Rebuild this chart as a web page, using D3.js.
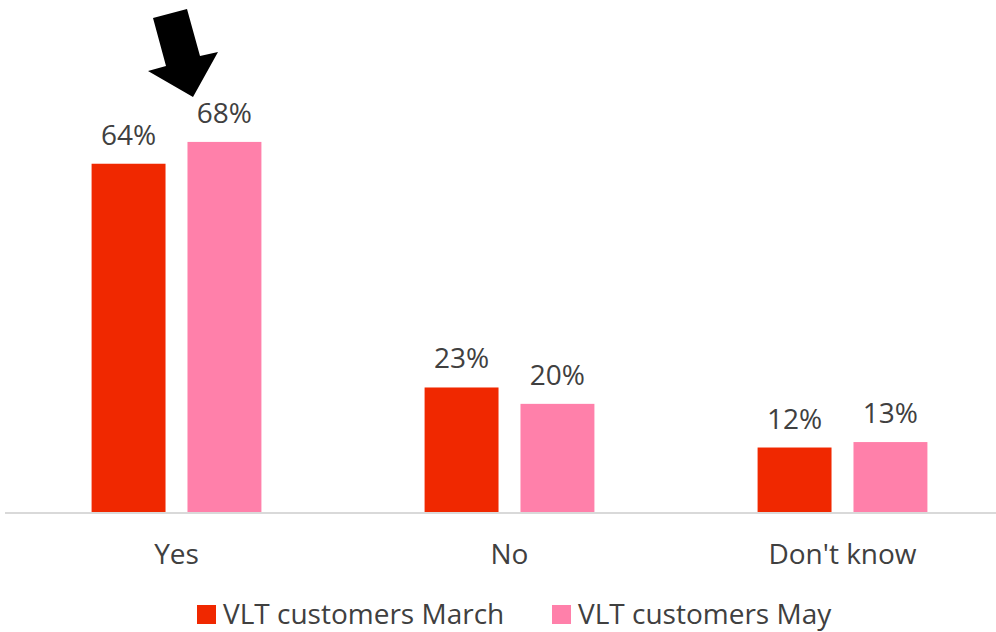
<!DOCTYPE html>
<html lang="en">
<head>
  <meta charset="utf-8">
  <title>VLT customers</title>
  <script src="https://d3js.org/d3.v7.min.js"></script>
  <style>
  body { margin: 0; background: #fff; }
  text { font-family: 'Open Sans', sans-serif; fill: #404040; }
  </style>
</head>
<body>
  <script>
  var width = 996;
  var height = 632;

  var categories = ["Yes", "No", "Don't know"];
  var seriesNames = ["VLT customers March", "VLT customers May"];
  var march = [64, 23, 12];
  var may = [68, 20, 13];
  var colors = ["#f02800", "#ff80aa"];

  var svg = d3.select("body")
    .append("svg")
    .attr("width", width)
    .attr("height", height);

  var x = d3.scaleBand()
    .domain(categories)
    .range([10, 1009])
    .paddingInner(0.49)
    .paddingOuter(0.245);

  var xs = d3.scaleBand()
    .domain(seriesNames)
    .range([0, x.bandwidth()])
    .paddingInner(0.229);

  var y = d3.scaleLinear()
    .domain([0, 70])
    .range([513, 131]);

  var rows = categories.map(function(c, i) {
    return { cat: c, vals: [march[i], may[i]] };
  });

  // bars
  var g = svg.append("g").selectAll("g")
    .data(rows)
    .enter().append("g")
    .attr("transform", function(d) { return "translate(" + x(d.cat) + ",0)"; });

  g.selectAll("rect")
    .data(function(d) { return d.vals.map(function(v, i) { return { s: seriesNames[i], v: v, i: i }; }); })
    .enter().append("rect")
    .attr("x", function(d) { return xs(d.s); })
    .attr("y", function(d) { return y(d.v); })
    .attr("width", xs.bandwidth())
    .attr("height", function(d) { return y(0) - y(d.v); })
    .attr("fill", function(d) { return colors[d.i]; });

  // value labels
  g.selectAll("text")
    .data(function(d) { return d.vals.map(function(v, i) { return { s: seriesNames[i], v: v }; }); })
    .enter().append("text")
    .attr("x", function(d) { return xs(d.s) + xs.bandwidth() / 2; })
    .attr("y", function(d) { return y(d.v) - 19; })
    .attr("text-anchor", "middle")
    .attr("font-size", 28)
    .text(function(d) { return d.v + "%"; });

  // axis
  var xAxis = svg.append("g")
    .attr("transform", "translate(0," + y(0) + ")")
    .call(d3.axisBottom(x).tickSize(0));
  xAxis.select(".domain").attr("stroke", "#d9d9d9").attr("stroke-width", 2).attr("d", "M5,0H996");
  xAxis.selectAll(".tick text")
    .attr("y", 51).attr("dy", 0)
    .attr("font-size", 28).attr("fill", "#595959").style("font-family", null);

  // arrow
  var arrowPts = [[153, 18], [187, 9], [200, 56], [218, 52], [193, 97], [148, 71], [166, 66]];
  svg.append("polygon")
    .attr("points", arrowPts.map(function(p) { return p.join(","); }).join(" "))
    .attr("fill", "#000");

  // legend
  var legendX = [197, 552];
  var leg = svg.append("g").selectAll("g")
    .data(seriesNames)
    .enter().append("g")
    .attr("transform", function(d, i) { return "translate(" + legendX[i] + ",605)"; });
  leg.append("rect")
    .attr("width", 19).attr("height", 19)
    .attr("fill", function(d, i) { return colors[i]; });
  leg.append("text")
    .attr("x", 26).attr("y", 19)
    .attr("font-size", 28)
    .attr("fill", "#595959")
    .text(function(d) { return d; });
  </script>
</body>
</html>
